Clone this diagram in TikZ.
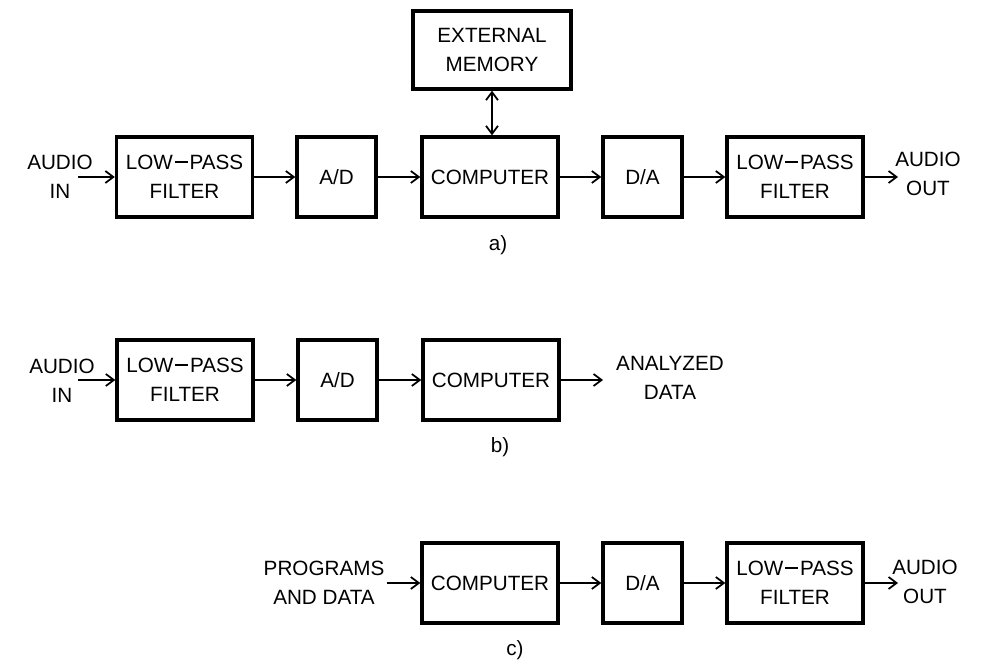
\documentclass[tikz,border=0pt]{standalone}
\usepackage{fontspec}
\setmainfont{Liberation Sans}
\usetikzlibrary{arrows.meta}
\newcommand{\lpdash}{\kern1.5pt\rule[0.31em]{9.5pt}{0.095em}\kern1.5pt}
\begin{document}
\begin{tikzpicture}[x=0.75pt,y=-0.75pt,
  txt/.style={font=\fontsize{15.5}{21.75}\selectfont, align=center, inner sep=0pt},
  blk/.style={txt, draw, line width=2.6pt, minimum height=60pt},
  wide/.style={blk, minimum width=102pt},
  narrow/.style={blk, minimum width=59.25pt},
  conn/.style={line width=1.3pt, -{Straight Barb[length=6pt,width=9pt]}},
  dconn/.style={line width=1.3pt, {Straight Barb[length=6pt,width=9pt]}-{Straight Barb[length=6pt,width=9pt]}}
]
\path[use as bounding box, fill=white] (0,0) rectangle (989,670);

% ---- a)
\node[blk, minimum width=118.5pt, minimum height=58.5pt] (memA) at (492,50) {EXTERNAL\\MEMORY};
\node[wide]   (lpfA)  at (184.5,177) {LOW\lpdash PASS\\FILTER};
\node[narrow] (adA)   at (336.5,177) {A/D};
\node[wide]   (compA) at (490,177)   {COMPUTER};
\node[narrow] (daA)   at (642.5,177) {D/A};
\node[wide]   (lpfA2) at (795,177)   {LOW\lpdash PASS\\FILTER};
\node[txt] (inA)  at (60,177)  {AUDIO\\IN};
\node[txt] (outA) at (928,174) {AUDIO\\OUT};
\coordinate (inAs) at (78,177);
\coordinate (outAe) at (898,177);
\node[txt] (labA) at (498,245) {a)};

\draw[conn] (inAs) -- (lpfA.west);
\draw[conn] (lpfA) -- (adA);
\draw[conn] (adA) -- (compA);
\draw[conn] (compA) -- (daA);
\draw[conn] (daA) -- (lpfA2);
\draw[conn] (lpfA2.east) -- (outAe);
\draw[dconn] (memA.south) -- (memA.south |- compA.north);

% ---- b)
\node[wide]   (lpfB)  at (185,380)   {LOW\lpdash PASS\\FILTER};
\node[narrow] (adB)   at (337.5,380) {A/D};
\node[wide]   (compB) at (491,380)   {COMPUTER};
\node[txt] (inB)  at (62,381)  {AUDIO\\IN};
\node[txt] (outB) at (670,378) {ANALYZED\\DATA};
\coordinate (inBs) at (78,380);
\coordinate (outBe) at (603,380);
\node[txt] (labB) at (500,447) {b)};

\draw[conn] (inBs) -- (lpfB.west);
\draw[conn] (lpfB) -- (adB);
\draw[conn] (adB) -- (compB);
\draw[conn] (compB.east) -- (outBe);

% ---- c)
\node[wide]   (compC) at (490,583)   {COMPUTER};
\node[narrow] (daC)   at (642.5,583) {D/A};
\node[wide]   (lpfC)  at (795,583)   {LOW\lpdash PASS\\FILTER};
\node[txt] (inC)  at (324,583) {PROGRAMS\\AND DATA};
\node[txt] (outC) at (925,582) {AUDIO\\OUT};
\coordinate (inCs) at (387,583);
\coordinate (outCe) at (898,583);
\node[txt] (labC) at (515,650) {c)};

\draw[conn] (inCs) -- (compC.west);
\draw[conn] (compC) -- (daC);
\draw[conn] (daC) -- (lpfC);
\draw[conn] (lpfC.east) -- (outCe);
\end{tikzpicture}
\end{document}
